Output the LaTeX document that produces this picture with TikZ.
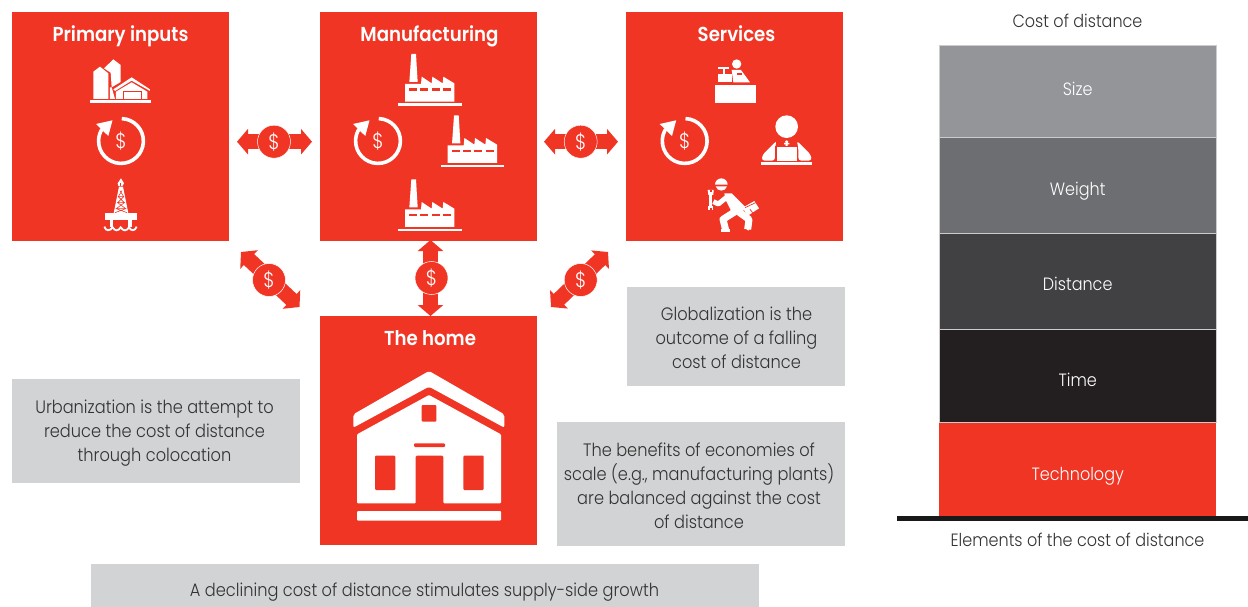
\documentclass[tikz,border=0pt]{standalone}
\usepackage{fontspec}
\setmainfont{Poppins}[FakeStretch=0.9,UprightFont={* Light},BoldFont={* SemiBold}]
\usetikzlibrary{arrows.meta,calc}
\definecolor{myred}{HTML}{F03525}
\definecolor{mygrey}{HTML}{D1D3D4}
\definecolor{txt}{HTML}{333333}
\newcommand{\lowered}[2]{\raisebox{-#1pt}[0pt][0pt]{#2}}
\tikzset{
 redbox/.style={fill=myred,draw=none,inner sep=0pt,minimum width=217pt,minimum height=229pt},
 redtitle/.style={inner sep=0pt,anchor=base,text=white,font=\fontsize{20.2}{22}\selectfont\bfseries},
 greybox/.style={fill=mygrey,draw=none,inner sep=0pt},
 greytext/.style={inner sep=0pt,align=center,text=txt,font=\fontsize{18}{24}\selectfont},
 stackbox/.style={draw=white!80!black,line width=.6pt,inner sep=0pt,minimum width=277.5pt,text=white,font=\fontsize{17.8}{20}\selectfont},
 plainlabel/.style={inner sep=0pt,anchor=base,text=txt,font=\fontsize{17.8}{20}\selectfont},
 exarrow/.style={draw=myred,line width=15pt,{Triangle[width=25pt,length=11pt]}-{Triangle[width=25pt,length=11pt]}},
 exdot/.style={circle,fill=myred,draw=white,line width=.5pt,minimum size=33pt,inner sep=0pt,text=white,font=\fontsize{21}{22}\selectfont},
}
% cycle icon with dollar sign
\newcommand{\cycicon}[3]{%
 \draw[white,line width=3.6pt] ($(#1,#2)+(-88:22.4)$) arc[start angle=-88,end angle=212,radius=22.4];
 \fill[white] (#1-25,#2-17) -- (#1-8.5,#2-20.7) -- (#1-12.7,#2-5) -- cycle;
 \node[inner sep=0pt,text=white,font=\fontsize{21}{22}\selectfont] (#3) at (#1,#2) {\$};
}
% factory icon, origin at zoom-frame corner
\newcommand{\factoryicon}[2]{%
 \begin{scope}[shift={(#1,#2)},scale=1/3]
  \fill[white] (268,246) -- (274,162) -- (288,162) -- (293,246) -- cycle;
  \fill[white] (255,305) -- (255,252) -- (303,252) -- (305,230) -- (335,250) -- (337,230) -- (368,250) -- (370,230) -- (403,250) -- (403,305) -- cycle;
  \foreach \a/\b in {267/291,301/325,335/359,369/393}{\fill[myred] (\a,265) rectangle (\b,272);}
  \fill[white] (235,310) rectangle (425,318);
 \end{scope}}
\begin{document}
\begin{tikzpicture}[x=1pt,y=-1pt]
\useasboundingbox (0,0) rectangle (1248,607);
% main boxes
\node[redbox] (prim) at (120.5,126.5) {};
\node[redbox] (manu) at (428.5,126.5) {};
\node[redbox] (serv) at (734.5,126.5) {};
\node[redbox] (home) at (428.5,430.5) {};
\node[redtitle] (primt) at (120.5,41.5) {Primary inputs};
\node[redtitle] (manut) at (429.5,41.5) {Manufacturing};
\node[redtitle] (servt) at (736.5,41.5) {Services};
\node[redtitle] (homet) at (430,345.5) {The home};
% grey notes
\node[greybox,minimum width=288pt,minimum height=104pt] (urb) at (156,431) {};
\node[greytext] (urbt) at (154.5,433) {Urbanization is the attempt to\\reduce the cost of distance\\through colocation};
\node[greybox,minimum width=218pt,minimum height=99pt] (glob) at (736,336.5) {};
\node[greytext] (globt) at (736.5,337.5) {Globalization is the\\outcome of a falling\\cost of distance};
\node[greybox,minimum width=288pt,minimum height=124pt] (ben) at (701,484) {};
\node[greytext] (bent) at (699,486) {The benefits of economies of\\scale (e.g., manufacturing plants)\\are balanced against the cost\\of distance};
\node[greybox,minimum width=668pt,minimum height=43pt] (decl) at (425,585.5) {};
\node[greytext] (declt) at (424.5,592) {A declining cost of distance stimulates supply-side growth};
% right stack
\node[plainlabel] (cod) at (1077.5,28) {Cost of distance};
\node[stackbox,fill={rgb,255:red,147;green,149;blue,152},minimum height=92pt] (s1) at (1077.7,91) {\lowered{5}{Size}};
\node[stackbox,fill={rgb,255:red,109;green,110;blue,113},minimum height=96pt] (s2) at (1077.7,185.5) {\lowered{9.5}{Weight}};
\node[stackbox,fill={rgb,255:red,65;green,64;blue,66},minimum height=96pt] (s3) at (1077.7,281.5) {\lowered{8.5}{Distance}};
\node[stackbox,fill={rgb,255:red,35;green,31;blue,32},minimum height=93pt] (s4) at (1077.7,376) {\lowered{10}{Time}};
\node[stackbox,fill=myred,draw=none,minimum height=93pt] (s5) at (1077.7,469.5) {\lowered{10.5}{Technology}};
\fill[black!90!white] (897,516) rectangle (1248,521);
\node[plainlabel] (eod) at (1077.5,546) {Elements of the cost of distance};
% exchange arrows
\coordinate (e1a) at (237,141.7); \coordinate (e1b) at (312,141.7);
\coordinate (e2a) at (544,141.7); \coordinate (e2b) at (618,141.7);
\coordinate (e3a) at (241,252);   \coordinate (e3b) at (299.5,307);
\coordinate (e4a) at (430.5,240); \coordinate (e4b) at (430.5,316);
\coordinate (e5a) at (608,252);   \coordinate (e5b) at (551,307);
\foreach \n in {1,...,5}{\draw[exarrow] (e\n a) -- (e\n b);}
\node[exdot] (d1) at (274,141.7) {\$};
\node[exdot] (d2) at (580.7,141.7) {\$};
\node[exdot] (d3) at (269,280) {\$};
\node[exdot] (d4) at (431.5,278) {\$};
\node[exdot] (d5) at (580.7,280) {\$};
% cycles
\cycicon{121}{141}{c1}
\cycicon{378}{141}{c2}
\cycicon{684.7}{141}{c3}
% silo & barn
\begin{scope}[scale=1/3]
 \fill[white] (270,300) rectangle (453,309);
 \fill[white] (280,297) -- (280,215) -- (300,200) -- (325,220) -- (325,297) -- cycle;
 \fill[white] (312,205) -- (340,178) -- (362,195) -- (362,246) -- (335,262) -- (332,218) -- cycle;
 \fill[white] (330,297) -- (330,262) -- (335,262) -- (345,297) -- cycle;
 \fill[white] (340,268) -- (395,232) -- (450,268) -- (450,273) -- (395,242) -- (345,273) -- cycle;
 \fill[white] (348,275) -- (395,247) -- (442,275) -- (442,297) -- (348,297) -- cycle;
 \fill[myred] (368,272) rectangle (427,297);
 \fill[white] (372,277) rectangle (423,297);
\end{scope}
% oil rig
\begin{scope}[shift={(95,170)},scale=1/3]
 \fill[white] (78,25) -- (87,40) -- (82,48) -- (70,48) -- (68,40) -- cycle;
 \fill[myred] (75,38) rectangle (79,48);
 \fill[white] (72,50) -- (84,50) -- (100,130) -- (56,130) -- cycle;
 \draw[myred,line width=.6pt] (75,62) -- (86,80) -- (68,98) -- (92,116) -- (60,128)
   (81,62) -- (70,80) -- (88,98) -- (64,116) -- (96,128)
   (70,80) -- (86,80) (66,98) -- (90,98) (62,116) -- (94,116);
 \fill[white] (30,130) rectangle (125,150);
 \fill[white] (45,150) rectangle (55,170);
 \fill[white] (100,150) rectangle (110,170);
 \draw[white,line width=1.8pt] (28,170) .. controls (32,184) and (45,184) .. (53,172) .. controls (60,184) and (70,184) .. (77,172) .. controls (85,184) and (95,184) .. (102,172) .. controls (108,184) and (120,184) .. (125,170);
\end{scope}
% factories
\factoryicon{320}{0}
\factoryicon{362.7}{61.3}
\factoryicon{320}{125.3}
% cashier
\begin{scope}[shift={(705,50)},scale=1/3]
 \fill[white] (30,104) rectangle (152,160);
 \fill[white] (95,42) circle[radius=14];
 \fill[white] (80,60) -- (108,60) -- (135,97) -- (85,97) -- cycle;
 \fill[white] (40,72) rectangle (82,97);
 \fill[white] (40,50) rectangle (72,58);
 \fill[white] (55,58) rectangle (60,72);
 \fill[myred] (97,70) rectangle (112,74);
\end{scope}
% laptop person
\begin{scope}[shift={(755,110)},scale=1/3]
 \fill[white] (95,50) circle[radius=34];
 \fill[white,rounded corners=3pt] (65,92) -- (22,135) -- (20,152) -- (60,152) -- (60,112) -- cycle;
 \fill[white,rounded corners=3pt] (125,92) -- (168,135) -- (170,152) -- (130,152) -- (130,112) -- cycle;
 \fill[white] (90,94) -- (95,91) -- (100,94) -- (97,99) -- (103,99) -- (103,103) -- (98,103) -- (98,110) -- (92,110) -- (92,103) -- (87,103) -- (87,99) -- (93,99) -- cycle;
 \fill[myred] (60,108) rectangle (130,158);
 \fill[white] (65,112) rectangle (125,153);
 \fill[white] (18,157) rectangle (170,165);
\end{scope}
% repairman
\begin{scope}[shift={(695,170)},scale=1/3]
 \fill[white] (60,44) arc[start angle=180,end angle=360,radius=19] -- cycle;
 \fill[white] (62,49) .. controls (66,66) and (92,66) .. (96,49) -- cycle;
 \fill[white] (88,70) -- (110,70) -- (150,110) -- (140,135) -- (112,130) -- (92,90) -- cycle;
 \draw[white,line width=7pt,line join=round] (120,125) -- (84,148) -- (92,180);
 \fill[white] (78,176) rectangle (106,186);
 \draw[white,line width=7pt,line join=round] (130,125) -- (162,148) -- (158,178);
 \fill[white] (150,174) -- (170,156) -- (170,165) -- (160,182) -- cycle;
 \draw[white,line width=5pt,line join=round] (97,80) -- (70,102) -- (55,95);
 \fill[white] (43,62) rectangle (50,115);
 \fill[white] (38,60) -- (56,60) -- (55,75) -- (40,75) -- cycle;
 \fill[myred] (44,60) rectangle (50,67);
 \fill[white] (38,108) rectangle (55,120);
 \fill[myred] (44,113) rectangle (50,120);
 \fill[white] (143,113) -- (178,93) -- (192,115) -- (157,138) -- cycle;
 \draw[myred,line width=.7pt] (150,113) -- (182,98) (165,118) -- (173,128);
\end{scope}
% home icon
\begin{scope}[shift={(320,315)},scale=1/3]
 \fill[white,rounded corners=2pt] (100,298) -- (327,168) -- (553,298) -- (553,338) -- (327,215) -- (100,338) -- cycle;
 \fill[white,rounded corners=1pt] (111,358) -- (327,240) -- (543,358) -- (543,565) -- (370,565) -- (370,422) -- (287,422) -- (287,565) -- (111,565) -- cycle;
 \fill[myred,rounded corners=1pt] (305,270) rectangle (349,320);
 \fill[myred,rounded corners=1pt] (282,385) rectangle (375,396);
 \fill[myred,rounded corners=1pt] (165,422) rectangle (226,525);
 \fill[myred,rounded corners=1pt] (430,422) rectangle (491,525);
 \fill[white,rounded corners=1pt] (111,588) rectangle (543,617);
\end{scope}
\end{tikzpicture}
\end{document}
